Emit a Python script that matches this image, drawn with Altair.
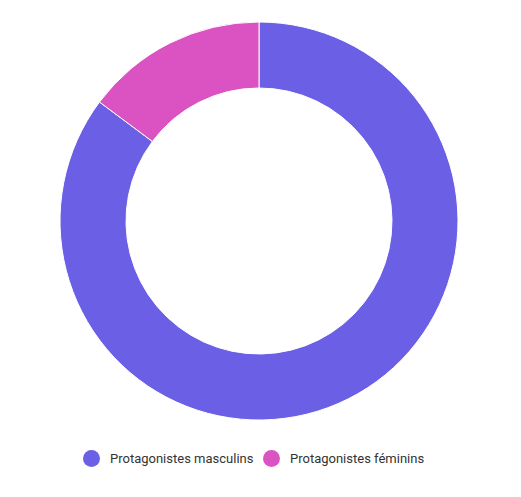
import altair as alt
import pandas as pd

categories = ["Protagonistes masculins", "Protagonistes féminins"]
values = [85.2, 14.8]
colors = ["#6B5FE5", "#DB52C2"]
order = [0, 1]

df = pd.DataFrame({"cat": categories, "val": values, "ord": order})

chart = alt.Chart(df).mark_arc(
    outerRadius=199, innerRadius=133, stroke="white", strokeWidth=1
).encode(
    x=alt.value(251),
    y=alt.value(213),
    theta=alt.Theta("val:Q", stack=True),
    order=alt.Order("ord:Q"),
    color=alt.Color(
        "cat:N",
        scale=alt.Scale(domain=categories, range=colors),
        sort=categories,
        legend=alt.Legend(
            title=None,
            orient="none",
            legendX=75,
            legendY=442,
            direction="horizontal",
            symbolType="circle",
            symbolSize=289,
            symbolStrokeWidth=0,
            labelFont="Roboto",
            labelFontSize=13,
            labelColor="#333333",
            labelOffset=10,
            columnPadding=9,
        ),
    ),
).properties(
    width=505, height=481, autosize=alt.AutoSizeParams(type="none"), padding=0
).configure_view(stroke=None)

chart.save("out.html", embed_options={"renderer": "svg", "actions": False})
